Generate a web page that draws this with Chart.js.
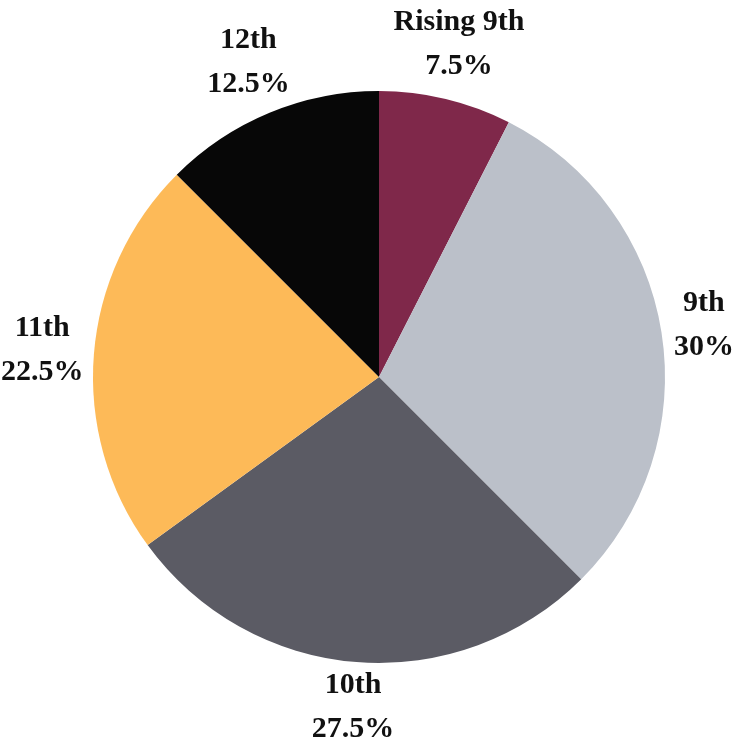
<!DOCTYPE html>
<html>
<head>
<meta charset="utf-8">
<script src="https://cdn.jsdelivr.net/npm/chart.js@4.4.0/dist/chart.umd.min.js"></script>
<style>
  html, body { margin: 0; padding: 0; background: #fff; }
  #wrap { width: 745px; height: 740px; }
</style>
</head>
<body>
<div id="wrap"><canvas id="pie"></canvas></div>
<script>
// grade breakdown
const grades = ['Rising 9th', '9th', '10th', '11th', '12th'];
const shares = [7.5, 30, 27.5, 22.5, 12.5];
const colors = ['#7f284a', '#bbc0c9', '#5b5b64', '#fdba58', '#070707'];

const fontFamily = '"Liberation Serif", "DejaVu Serif", serif';

// labels outside each slice, two lines: name + percent
const outsideLabels = {
  id: 'outsideLabels',
  afterDraw(chart) {
    const ctx = chart.ctx;
    const arcs = chart.getDatasetMeta(0).data;
    const lineH = 44;
    ctx.save();
    ctx.font = 'bold 30px ' + fontFamily;
    ctx.fillStyle = '#111';
    ctx.textAlign = 'center';
    ctx.textBaseline = 'middle';
    arcs.forEach((arc, i) => {
      const p = arc.getProps(['x', 'y', 'startAngle', 'endAngle', 'outerRadius'], true);
      const mid = (p.startAngle + p.endAngle) / 2;
      const l1 = grades[i];
      const l2 = shares[i] + '%';
      const w = Math.max(ctx.measureText(l1).width, ctx.measureText(l2).width);
      const h = lineH + 24;
      const ext = Math.abs(Math.cos(mid)) * w / 2 + Math.abs(Math.sin(mid)) * h / 2;
      const r = p.outerRadius + 8 + ext;
      const cx = p.x + Math.cos(mid) * r;
      const cy = p.y + Math.sin(mid) * r;
      ctx.fillText(l1, cx, cy - lineH / 2);
      ctx.fillText(l2, cx, cy + lineH / 2);
    });
    ctx.restore();
  }
};

new Chart(document.getElementById('pie'), {
  type: 'pie',
  data: {
    labels: grades,
    datasets: [{
      data: shares,
      backgroundColor: colors,
      borderWidth: 0
    }]
  },
  options: {
    responsive: true,
    maintainAspectRatio: false,
    animation: false,
    layout: { padding: { top: 91, bottom: 77, left: 93, right: 80 } },
    plugins: {
      legend: { display: false },
      tooltip: { enabled: false }
    }
  },
  plugins: [outsideLabels]
});
</script>
</body>
</html>
